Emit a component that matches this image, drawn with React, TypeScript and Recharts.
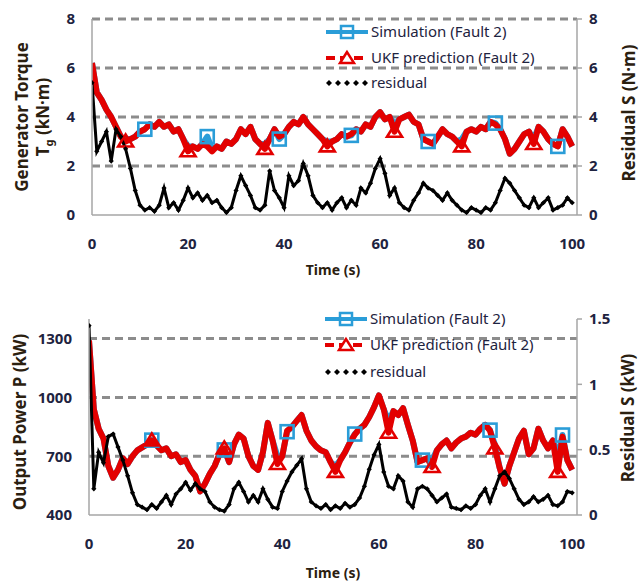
import React from 'react';
import { ComposedChart, Line, XAxis, YAxis, ReferenceLine } from 'recharts';

const time = [0,1,2,3,4,5,6,7,8,9,10,11,12,13,14,15,16,17,18,19,20,21,22,23,24,25,26,27,28,29,30,31,32,33,34,35,36,37,38,39,40,41,42,43,44,45,46,47,48,49,50,51,52,53,54,55,56,57,58,59,60,61,62,63,64,65,66,67,68,69,70,71,72,73,74,75,76,77,78,79,80,81,82,83,84,85,86,87,88,89,90,91,92,93,94,95,96,97,98,99,100];
const xTicks = [0, 20, 40, 60, 80, 100];

const torqueUkf = [6.2,5.0,4.7,4.3,4.0,3.6,3.2,3.0,3.1,3.2, 3.4,3.5,3.7,3.6,3.8,3.6,3.7,3.4,3.5,3.1, 2.6,2.8,2.7,2.9,2.8,2.6,2.8,2.7,3.0,2.9, 3.1,3.5,3.3,3.6,3.1,2.9,2.7,3.1,3.5,3.2, 3.3,3.6,3.8,3.7,4.0,3.7,3.5,3.3,3.1,2.8, 3.0,3.1,3.3,3.2,3.3,3.5,3.4,3.7,3.6,4.0, 4.2,3.9,4.0,3.4,3.9,4.0,4.1,3.8,3.7,3.1, 3.0,2.9,3.2,3.5,3.3,3.2,3.0,2.8,3.4,3.5, 3.4,3.6,3.5,3.8,3.7,3.5,3.1,2.5,2.7,3.0, 3.3,3.4,2.9,3.6,3.4,3.1,2.9,2.8,3.5,3.2, 2.8];
const torqueSim = [6.2,5.0,4.7,4.3,4.0,3.6,3.2,3.1,3.1,3.2, 3.4,3.5,3.7,3.6,3.8,3.6,3.7,3.4,3.5,3.1, 2.8,2.8,2.7,2.9,3.2,2.7,2.8,2.7,3.0,2.9, 3.1,3.5,3.3,3.6,3.1,2.9,2.9,3.1,3.5,3.1, 3.3,3.6,3.8,3.7,4.0,3.7,3.5,3.3,3.1,3.0, 3.0,3.1,3.3,3.2,3.25,3.5,3.4,3.7,3.6,4.0, 4.2,3.9,4.0,3.7,3.9,4.0,4.1,3.8,3.7,3.1, 3.0,2.9,3.2,3.5,3.3,3.2,3.0,3.1,3.4,3.5, 3.4,3.6,3.5,3.8,3.75,3.5,3.1,2.5,2.7,3.0, 3.3,3.4,3.1,3.6,3.4,3.1,2.9,2.8,3.5,3.2, 2.8];
const torqueRes = [5.4,2.6,3.0,3.4,2.2,3.5,3.2,2.7,1.9,1.0, 0.4,0.2,0.3,0.15,0.4,1.1,0.3,0.5,0.2,0.6, 1.1,0.7,0.9,0.6,0.8,0.5,0.6,0.3,0.1,0.3, 1.0,1.6,1.2,0.8,0.3,0.2,0.4,1.8,1.0,0.7, 0.3,1.6,1.2,1.4,2.1,1.6,0.8,0.5,0.3,0.5, 0.2,0.5,0.7,0.3,0.6,0.4,1.1,0.9,1.3,1.9, 2.3,1.7,0.8,1.1,0.5,0.3,0.2,0.6,0.9,1.3, 1.1,1.0,0.8,0.6,0.9,0.6,0.4,0.2,0.1,0.3, 0.2,0.1,0.3,0.2,0.5,1.0,1.5,1.3,1.0,0.7, 0.4,0.3,0.7,0.3,0.5,0.7,0.2,0.3,0.4,0.7, 0.5];

const powerUkf = [1290,940,840,790,650,590,630,690,660,700, 730,745,760,780,755,730,740,700,710,670, 680,630,600,520,560,610,650,710,740,670, 760,810,790,700,650,630,720,870,780,660, 700,830,850,880,910,830,780,750,730,720, 670,620,680,720,770,810,840,860,900,950, 1010,940,820,930,910,945,860,780,670,680, 690,645,730,760,780,740,770,790,800,820, 810,840,860,830,740,640,560,650,720,790, 830,710,740,840,780,740,780,620,800,680, 630];
const powerSim = [1290,940,840,790,650,590,630,690,660,700, 730,745,760,782,755,730,740,700,710,670, 680,630,600,520,560,610,650,710,732,670, 760,810,790,700,650,630,720,870,780,700, 700,825,850,880,910,830,780,750,730,720, 670,650,680,720,770,813,840,860,900,950, 1010,940,880,930,910,945,860,780,670,680, 690,680,730,760,780,740,770,790,800,820, 810,840,860,833,760,640,560,650,720,790, 830,710,740,840,780,740,780,700,808,680, 630];
const powerRes = [1.45,0.2,0.48,0.4,0.6,0.62,0.52,0.42,0.3,0.17, 0.08,0.06,0.04,0.08,0.05,0.1,0.15,0.08,0.16,0.2, 0.25,0.19,0.24,0.2,0.18,0.1,0.06,0.04,0.03,0.08, 0.2,0.25,0.18,0.1,0.15,0.1,0.2,0.12,0.06,0.05, 0.18,0.26,0.33,0.38,0.43,0.2,0.1,0.07,0.05,0.08, 0.04,0.07,0.05,0.09,0.06,0.08,0.13,0.22,0.35,0.46, 0.54,0.33,0.22,0.2,0.3,0.26,0.1,0.06,0.2,0.22, 0.2,0.15,0.1,0.13,0.16,0.06,0.05,0.04,0.07,0.05, 0.08,0.15,0.2,0.1,0.2,0.3,0.33,0.28,0.2,0.12, 0.08,0.1,0.14,0.1,0.12,0.15,0.08,0.07,0.1,0.18, 0.17];

const torqueSimMarks = [11, 24, 39, 54, 70, 84, 97];
const torqueUkfMarks = [7, 20, 36, 49, 63, 77, 92];
const powerSimMarks = [13, 28, 41, 55, 69, 83, 98];
const powerUkfMarks = [13, 28, 39, 51, 62, 71, 84, 97];

const torqueTicks = [0, 2, 4, 6, 8];
const torqueGrid = [2, 4, 6, 8];
const powerTicks = [400, 700, 1000, 1300];
const powerGrid = [700, 1000, 1300];
const powerResTicks = [0, 0.5, 1, 1.5];

const legendLabels = ['Simulation (Fault 2)', 'UKF prediction (Fault 2)', 'residual'];

const torqueData = time.map((t, i) => ({ t, sim: torqueSim[i], ukf: torqueUkf[i], res: torqueRes[i] }));
const powerData = time.map((t, i) => ({ t, sim: powerSim[i], ukf: powerUkf[i], res: powerRes[i] }));

const BLUE = '#2a9dd8';
const RED = '#e30000';
const GRID = '#8c8c8c';
const AXIS = '#a6a6a6';
const TICK = '#1e2340';
const TITLE = '#2b2010';
const FONT = "'Noto Sans', 'DejaVu Sans', sans-serif";

const tickStyle = { fontSize: 15, fontWeight: 'bold', fill: TICK, fontFamily: FONT };

const squareDot = (marks: number[]) => (props: any) => {
  const { cx, cy, index } = props;
  if (!marks.includes(index) || cx == null || cy == null) return <g key={`sq-${index}`} />;
  return <rect key={`sq-${index}`} x={cx - 6.5} y={cy - 6.5} width={13} height={13} fill="none" stroke={BLUE} strokeWidth={2.6} />;
};
const triDot = (marks: number[]) => (props: any) => {
  const { cx, cy, index } = props;
  if (!marks.includes(index) || cx == null || cy == null) return <g key={`tr-${index}`} />;
  return <polygon key={`tr-${index}`} points={`${cx},${cy - 7} ${cx - 7.5},${cy + 5} ${cx + 7.5},${cy + 5}`} fill="none" stroke={RED} strokeWidth={2.6} strokeLinejoin="miter" />;
};
const diamondDot = (props: any) => {
  const { cx, cy, index } = props;
  if (cx == null || cy == null) return <g key={`dm-${index}`} />;
  const r = 2.6;
  return <polygon key={`dm-${index}`} points={`${cx},${cy - r} ${cx + r},${cy} ${cx},${cy + r} ${cx - r},${cy}`} fill="#000" />;
};

function Panel(props: {
  data: any[]; height: number; top: number; xAxisHeight: number; leftWidth: number;
  leftDomain: number[]; leftTicks: number[]; grid: number[]; rightDomain: number[]; rightTicks: number[];
  simMarks: number[]; ukfMarks: number[];
}) {
  const p = props;
  return (
    <ComposedChart width={641} height={p.height} data={p.data} margin={{ top: p.top, right: 0, bottom: 0, left: 0 }}>
      <XAxis dataKey="t" type="number" domain={[0, 101]} ticks={xTicks} height={p.xAxisHeight}
        tickLine={false} tickSize={0} tickMargin={23} tick={tickStyle}
        axisLine={{ stroke: AXIS, strokeWidth: 1.5 }} allowDataOverflow />
      <YAxis yAxisId="left" domain={p.leftDomain} ticks={p.leftTicks} width={p.leftWidth}
        tickLine={false} tickSize={0} tickMargin={17} tick={tickStyle}
        axisLine={{ stroke: AXIS, strokeWidth: 1.5 }} interval={0} allowDataOverflow />
      <YAxis yAxisId="right" orientation="right" domain={p.rightDomain} ticks={p.rightTicks} width={64}
        tickLine={{ stroke: AXIS, strokeWidth: 1.5 }} tickSize={5} tickMargin={7} tick={tickStyle}
        axisLine={{ stroke: AXIS, strokeWidth: 1.5 }} interval={0} allowDataOverflow />
      {p.grid.map((v) => (
        <ReferenceLine key={`g${v}`} yAxisId="left" y={v} stroke={GRID} strokeWidth={3} strokeDasharray="8 5" />
      ))}
      <Line yAxisId="left" dataKey="sim" stroke={BLUE} strokeWidth={6} dot={squareDot(p.simMarks)}
        activeDot={false} isAnimationActive={false} strokeLinejoin="round" />
      <Line yAxisId="left" dataKey="ukf" stroke={RED} strokeWidth={6} dot={triDot(p.ukfMarks)}
        activeDot={false} isAnimationActive={false} strokeLinejoin="round" />
      <Line yAxisId="right" dataKey="res" stroke="#000" strokeWidth={3} dot={diamondDot}
        activeDot={false} isAnimationActive={false} />
    </ComposedChart>
  );
}

function LegendBlock({ x, ys }: { x: number; ys: number[] }) {
  const x0 = x, x1 = x + 42, xm = x + 21;
  return (
    <g fontFamily={FONT} fontSize={15} fill={TICK}>
      <line x1={x0} y1={ys[0]} x2={x1} y2={ys[0]} stroke={BLUE} strokeWidth={4} />
      <rect x={xm - 6} y={ys[0] - 6} width={12} height={12} fill="none" stroke={BLUE} strokeWidth={2.5} />
      <text x={x1 + 3} y={ys[0] + 5}>{legendLabels[0]}</text>
      <line x1={x0} y1={ys[1]} x2={x1} y2={ys[1]} stroke={RED} strokeWidth={4} strokeDasharray="9 5" />
      <polygon points={`${xm},${ys[1] - 6} ${xm - 7},${ys[1] + 5} ${xm + 7},${ys[1] + 5}`} fill="#fff" stroke={RED} strokeWidth={2.5} />
      <text x={x1 + 3} y={ys[1] + 5}>{legendLabels[1]}</text>
      {[0, 1, 2, 3, 4].map((k) => {
        const cx = x0 + 3 + k * 9;
        const cy = ys[2];
        return <polygon key={k} points={`${cx},${cy - 3} ${cx + 3},${cy} ${cx},${cy + 3} ${cx - 3},${cy}`} fill="#000" />;
      })}
      <text x={x1 + 3} y={ys[2] + 5}>{legendLabels[2]}</text>
    </g>
  );
}

export default function App() {
  return (
    <div style={{ position: 'absolute', left: 0, top: 0, width: 641, height: 586, background: '#fff', overflow: 'hidden' }}>
      <div style={{ position: 'absolute', left: 0, top: 0 }}>
        <Panel data={torqueData} height={290} top={19} xAxisHeight={75} leftWidth={92}
          leftDomain={[0, 8]} leftTicks={torqueTicks} grid={torqueGrid} rightDomain={[0, 8]} rightTicks={torqueTicks}
          simMarks={torqueSimMarks} ukfMarks={torqueUkfMarks} />
      </div>
      <div style={{ position: 'absolute', left: 0, top: 290 }}>
        <Panel data={powerData} height={296} top={29} xAxisHeight={71} leftWidth={89}
          leftDomain={[400, 1400]} leftTicks={powerTicks} grid={powerGrid} rightDomain={[0, 1.5]} rightTicks={powerResTicks}
          simMarks={powerSimMarks} ukfMarks={powerUkfMarks} />
      </div>
      <svg width={641} height={586} style={{ position: 'absolute', left: 0, top: 0, pointerEvents: 'none' }}>
        <LegendBlock x={326} ys={[32, 58, 83]} />
        <LegendBlock x={325} ys={[319, 345, 372]} />
        <g fontFamily={FONT} fontWeight="bold" fill={TITLE}>
          <text x={333} y={275} fontSize={14} textAnchor="middle">Time (s)</text>
          <text x={333} y={578} fontSize={14} textAnchor="middle">Time (s)</text>
          <text transform="translate(28,117) rotate(-90)" fontSize={17} textAnchor="middle">Generator Torque</text>
          <text transform="translate(49,117) rotate(-90)" fontSize={17} textAnchor="middle">
            T<tspan fontSize={11} dy={4}>g</tspan><tspan dy={-4}> (kN·m)</tspan>
          </text>
          <text transform="translate(635,113) rotate(-90)" fontSize={17} textAnchor="middle">Residual S (N·m)</text>
          <text transform="translate(26,422) rotate(-90)" fontSize={17} textAnchor="middle">Output Power P (kW)</text>
          <text transform="translate(634,418) rotate(-90)" fontSize={17} textAnchor="middle">Residual S (kW)</text>
        </g>
      </svg>
    </div>
  );
}
